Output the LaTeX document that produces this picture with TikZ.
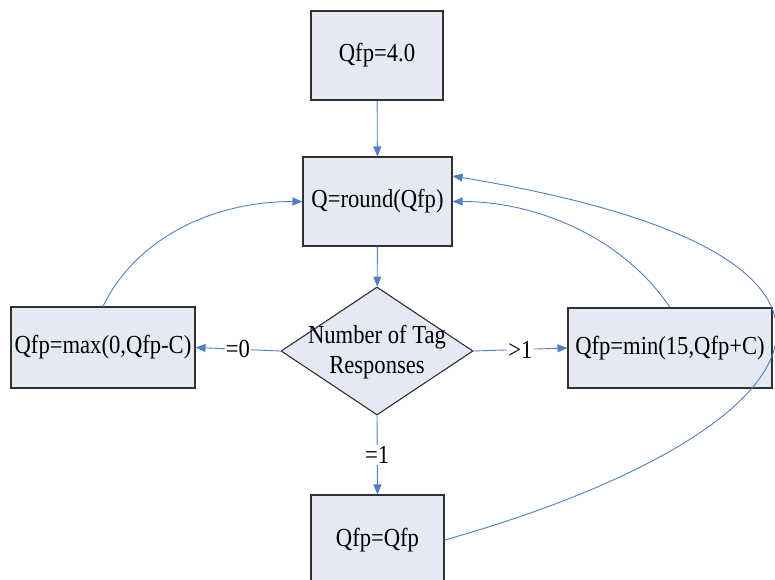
\documentclass[tikz,border=0pt]{standalone}
\usepackage{fontspec}
\setmainfont{Liberation Serif}[FakeStretch=0.87]
\usetikzlibrary{shapes.geometric,arrows.meta}
\definecolor{boxfill}{HTML}{E4E9F3}
\definecolor{linkblue}{HTML}{4F7FC4}
\definecolor{boxline}{HTML}{303030}
\begin{document}
\begin{tikzpicture}[x=1pt,y=-1pt,
  every node/.style={font=\fontsize{26}{30}\selectfont},
  procbox/.style={draw=boxline,fill=boxfill,line width=1.1pt,inner sep=0pt},
  link/.style={draw=linkblue,line width=0.9pt},
  linkarrow/.style={link,-{Triangle[length=10pt,width=8pt]}},
  lbl/.style={fill=white,inner sep=1pt}]
\useasboundingbox (0,0) rectangle (775,579);
\node[procbox,minimum width=132pt,minimum height=89pt] (top) at (377,55.5) {Qfp=4.0};
\node[procbox,minimum width=149pt,minimum height=89pt] (q) at (377.5,201.5) {Q=round(Qfp)};
\node[procbox,diamond,minimum width=192pt,minimum height=128pt] (d) at (377,351) {};
\node[align=center,inner sep=0pt] (dt) at (377,352) {Number of Tag\\Responses};
\node[procbox,minimum width=184pt,minimum height=81pt] (left) at (103,347.5) {Qfp=max(0,Qfp-C)};
\node[procbox,minimum width=204pt,minimum height=80pt] (right) at (670,348) {Qfp=min(15,Qfp+C)};
\node[procbox,minimum width=133pt,minimum height=90pt] (bot) at (377.5,540) {Qfp=Qfp};
\draw[linkarrow] (top) -- (q);
\draw[linkarrow] (q) -- (d);
\draw[linkarrow] (d.west) -- node[lbl] {=0} (left.east);
\draw[linkarrow] (d.east) -- node[lbl] {>1} (right.west);
\draw[linkarrow] (d.south) -- node[lbl] {=1} (bot.north);
\draw[linkarrow] (left.north) .. controls (135,240) and (210,201.5) .. (q.west);
\draw[linkarrow] (right.north) .. controls (625,240) and (540,201.5) .. (q.east);
\draw[linkarrow] (bot.east) .. controls (800,440) and (960,260) .. ([yshift=25.5pt]q.east);
\end{tikzpicture}
\end{document}
